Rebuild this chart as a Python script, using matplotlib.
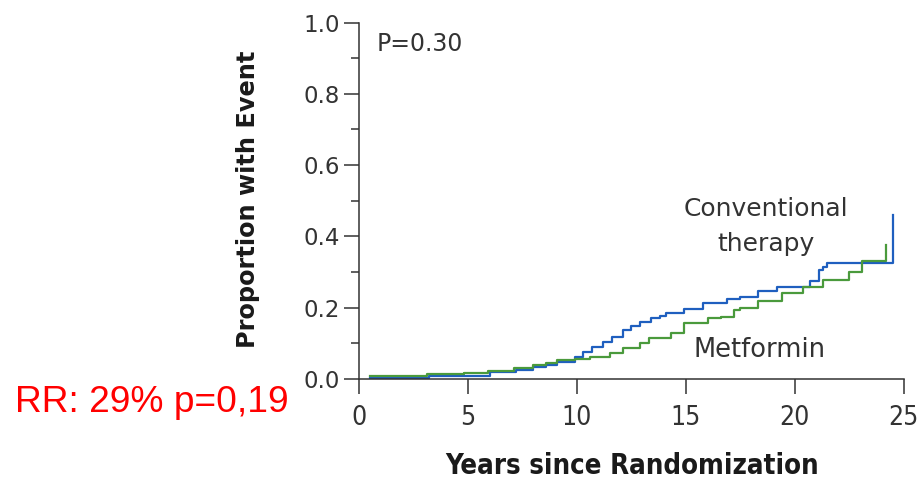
import matplotlib.pyplot as plt

# Kaplan-Meier style step curves
conv_t = [0.5, 3.2, 6.0, 7.2, 8.0, 8.6, 9.1, 9.9, 10.3, 10.7, 11.2, 11.6, 12.1, 12.5,
          12.9, 13.4, 13.8, 14.1, 14.9, 15.8, 16.9, 17.5, 18.3, 19.2, 20.7, 21.1, 21.3,
          21.5, 24.5, 24.5]
conv_v = [0.003, 0.008, 0.02, 0.025, 0.033, 0.04, 0.048, 0.062, 0.075, 0.09, 0.104,
          0.118, 0.137, 0.148, 0.16, 0.17, 0.178, 0.185, 0.196, 0.213, 0.224, 0.23,
          0.247, 0.258, 0.275, 0.306, 0.315, 0.325, 0.325, 0.46]

met_t = [0.5, 3.1, 4.8, 5.9, 7.1, 8.0, 8.6, 9.1, 9.9, 10.6, 11.5, 12.1, 12.9, 13.3,
         14.3, 14.9, 16.0, 16.6, 17.2, 17.5, 18.3, 19.4, 20.4, 21.3, 22.5, 23.1, 24.2, 24.2]
met_v = [0.008, 0.014, 0.017, 0.022, 0.03, 0.04, 0.045, 0.053, 0.056, 0.062, 0.073,
         0.087, 0.10, 0.115, 0.13, 0.157, 0.17, 0.175, 0.193, 0.2, 0.22, 0.24, 0.258,
         0.277, 0.30, 0.33, 0.33, 0.376]

xticks = [0, 5, 10, 15, 20, 25]
yticks = [0.0, 0.2, 0.4, 0.6, 0.8, 1.0]

grey = '#333333'

fig = plt.figure(figsize=(9.23, 4.82), dpi=100)
ax = fig.add_axes([0.389, 0.2137, 0.590, 0.7396])

ax.step(conv_t, conv_v, where='post', color='#1f5fbf', lw=1.6)
ax.step(met_t, met_v, where='post', color='#4a9a3c', lw=1.6)

ax.set_xlim(0, 25)
ax.set_ylim(0, 1.0)
ax.set_xticks(xticks)
ax.set_xticklabels([str(x) for x in xticks], fontsize=19, color=grey, fontstretch='condensed')
ax.set_yticks(yticks)
ax.set_yticklabels([f'{y:.1f}' for y in yticks], fontsize=16.5, color=grey)
ax.set_yticks([0.1, 0.3, 0.5, 0.7, 0.9], minor=True)

ax.tick_params(axis='both', which='major', length=11, width=1.1, color=grey, pad=3)
ax.tick_params(axis='x', which='major', pad=8)
ax.tick_params(axis='y', which='minor', length=6, width=1.1, color=grey)
for side in ['top', 'right']:
    ax.spines[side].set_visible(False)
for side in ['left', 'bottom']:
    ax.spines[side].set_color(grey)
    ax.spines[side].set_linewidth(1.1)

ax.text(0.8, 0.94, 'P=0.30', fontsize=17, color=grey, va='center', ha='left')
ax.text(18.7, 0.478, 'Conventional', fontsize=18, color=grey, ha='center', va='center')
ax.text(18.7, 0.38, 'therapy', fontsize=18, color=grey, ha='center', va='center')
ax.text(18.4, 0.081, 'Metformin', fontsize=18.5, color=grey, ha='center', va='center')

fig.text(248 / 923, 1 - 199 / 482, 'Proportion with Event', rotation=90, fontsize=17.3,
         fontweight='bold', color='#1a1a1a', ha='center', va='center')
fig.text(632 / 923, 1 - 466 / 482, 'Years since Randomization', fontsize=19.8,
         fontweight='bold', color='#1a1a1a', ha='center', va='center', fontstretch='condensed')
fig.text(15 / 923, 1 - 402 / 482, 'RR: 29% p=0,19', fontsize=26.7, color='#ff0000',
         family=['Liberation Sans', 'DejaVu Sans'], ha='left', va='center')

fig.savefig('out.png', dpi=100)
